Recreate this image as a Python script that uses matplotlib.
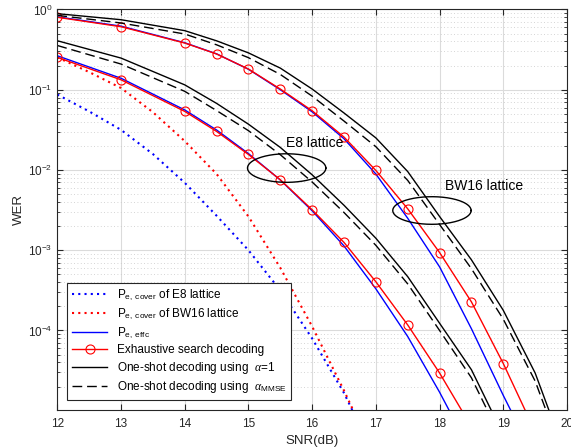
import numpy as np
import matplotlib
matplotlib.use('Agg')
import matplotlib.pyplot as plt
from matplotlib.ticker import LogLocator, NullFormatter

plt.rcParams['font.family'] = ['Liberation Sans', 'DejaVu Sans']
plt.rcParams['mathtext.fontset'] = 'custom'
plt.rcParams['mathtext.rm'] = 'Liberation Sans'
plt.rcParams['mathtext.it'] = 'Liberation Serif:italic'

# SNR points of the simulations
snr_sim = [12, 13, 14, 14.5, 15, 15.5, 16, 16.5, 17, 17.5, 18, 18.5, 19, 19.5, 20]
snr_cov = [12, 12.5, 13, 13.5, 14, 14.5, 15, 15.5, 16, 16.5, 17]

# covering bounds
cover_e8 = [0.0871, 0.0537, 0.0316, 0.0158, 6.92e-3, 2.69e-3, 1.0e-3, 3.16e-4, 7.94e-5, 1.66e-5, 2.5e-6]
cover_bw16 = [0.253, 0.166, 0.105, 0.0525, 0.0229, 8.91e-3, 2.63e-3, 6.03e-4, 1.12e-4, 1.78e-5, 2.5e-6]

# E8 lattice
effc_e8 = [0.265, 0.139, 0.056, 0.0315, 0.016, 0.0075, 3.1e-3, 1.13e-3, 3.3e-4, 8.4e-5, 1.7e-5, 3.0e-6]
exh_e8 = [0.253, 0.133, 0.0537, 0.0302, 0.0156, 0.00755, 0.00319, 0.00125, 4.04e-4, 1.17e-4, 2.95e-5, 6.3e-6]
one_e8 = [0.408, 0.248, 0.115, 0.0676, 0.0372, 0.0191, 8.7e-3, 3.63e-3, 1.41e-3, 4.68e-4, 1.23e-4, 3.24e-5, 5.0e-6]
mmse_e8 = [0.356, 0.209, 0.0955, 0.055, 0.0309, 0.0155, 7.08e-3, 2.95e-3, 1.15e-3, 3.8e-4, 1.0e-4, 2.57e-5, 3.98e-6]

# BW16 lattice
effc_bw16 = [0.81, 0.62, 0.385, 0.28, 0.18, 0.1, 0.053, 0.0245, 8.9e-3, 2.5e-3, 6.2e-4, 1.05e-4, 1.55e-5, 2.5e-6]
exh_bw16 = [0.80, 0.61, 0.382, 0.279, 0.181, 0.102, 0.0547, 0.0257, 9.86e-3, 3.28e-3, 9.35e-4, 2.27e-4, 3.87e-5, 5.5e-6]
one_bw16 = [0.887, 0.746, 0.545, 0.407, 0.288, 0.186, 0.102, 0.0513, 0.0251, 9.55e-3, 2.63e-3, 7.59e-4, 1.78e-4, 2.95e-5, 2.5e-6]
mmse_bw16 = [0.845, 0.679, 0.495, 0.363, 0.251, 0.155, 0.0832, 0.0407, 0.0195, 7.41e-3, 2.09e-3, 5.89e-4, 1.38e-4, 2.34e-5, 2.0e-6]

ax_col = (0.15, 0.15, 0.15)
dot = (0, (1, 2))
dash = (0, (7, 3.5))

fig = plt.figure(figsize=(5.71, 4.48), dpi=100)
ax = fig.add_axes([0.1004, 0.0848, 0.8926, 0.894])

ax.plot(snr_cov, cover_e8, color='b', ls=dot, lw=1.5,
        label=r'P$_{\rm e,\ cover}$ of E8 lattice')
ax.plot(snr_cov, cover_bw16, color='r', ls=dot, lw=1.5,
        label=r'P$_{\rm e,\ cover}$ of BW16 lattice')
ax.plot(snr_sim[:len(effc_e8)], effc_e8, color='b', lw=1.0, label=r'P$_{\rm e,\ effc}$')
ax.plot(snr_sim[:len(effc_bw16)], effc_bw16, color='b', lw=1.0)
ax.plot(snr_sim[:len(exh_e8)], exh_e8, color='r', lw=1.0, marker='o', ms=6.5, mfc='none',
        mew=0.8, label='Exhaustive search decoding')
ax.plot(snr_sim[:len(exh_bw16)], exh_bw16, color='r', lw=1.0, marker='o', ms=6.5, mfc='none',
        mew=0.8)
ax.plot(snr_sim[:len(one_e8)], one_e8, color='k', lw=1.0,
        label=r'One-shot decoding using  $\alpha$=1')
ax.plot(snr_sim[:len(one_bw16)], one_bw16, color='k', lw=1.0)
ax.plot(snr_sim[:len(mmse_e8)], mmse_e8, color='k', lw=1.0, ls=dash,
        label=r'One-shot decoding using  $\alpha_{\rm MMSE}$')
ax.plot(snr_sim[:len(mmse_bw16)], mmse_bw16, color='k', lw=1.0, ls=dash)

# ellipses marking the two lattice groups (center in dB / log10 WER)
t = np.linspace(0, 2 * np.pi, 200)
for cx, cy, a, b in [(15.6, -1.976, 0.615, 0.178), (17.88, -2.505, 0.615, 0.172)]:
    ax.plot(cx + a * np.cos(t), 10 ** (cy + b * np.sin(t)), color='k', lw=1.0)
ax.text(15.59, 10 ** -1.665, 'E8 lattice', fontsize=10, va='center', ha='left')
ax.text(18.08, 10 ** -2.205, 'BW16 lattice', fontsize=10, va='center', ha='left')

ax.set_yscale('log')
ax.set_xlim(12, 20)
ax.set_ylim(1.02e-5, 1)
ax.set_xticks(range(12, 21))
ax.yaxis.set_major_locator(LogLocator(base=10, numticks=10))
ax.yaxis.set_minor_locator(LogLocator(base=10, subs=np.arange(2, 10), numticks=20))
ax.yaxis.set_minor_formatter(NullFormatter())
ax.xaxis.set_minor_locator(matplotlib.ticker.NullLocator())

ax.grid(True, which='major', color=(0.86, 0.86, 0.86), lw=0.8, ls='-')
ax.grid(True, which='minor', axis='y', color=(0.78, 0.78, 0.78), lw=0.6, ls=(0, (1, 3)))
ax.set_axisbelow(True)

ax.tick_params(which='both', direction='in', top=True, right=True, colors=ax_col,
               labelsize=8.5)
ax.tick_params(which='major', length=4)
ax.tick_params(which='minor', length=2)
ax.tick_params(axis='x', pad=6)
for s in ax.spines.values():
    s.set_color(ax_col)
    s.set_linewidth(0.8)

ax.set_xlabel('SNR(dB)', fontsize=9.5, color=ax_col, labelpad=3)
ax.set_ylabel('WER', fontsize=9.5, color=ax_col, labelpad=2)

leg = ax.legend(loc='lower left', bbox_to_anchor=(0.0196, 0.025), borderaxespad=0,
                fontsize=8.5, handlelength=3.0, fancybox=False, framealpha=1,
                edgecolor=ax_col, labelspacing=0.3, borderpad=0.4)
leg.get_frame().set_linewidth(0.8)

fig.savefig('out.png', dpi=100)
